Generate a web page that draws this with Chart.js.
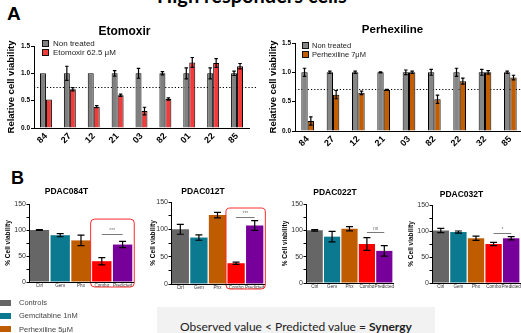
<!DOCTYPE html>
<html>
<head>
<meta charset="utf-8">
<script src="https://cdn.jsdelivr.net/npm/chart.js@4.4.1/dist/chart.umd.min.js"></script>
<style>
  body { margin: 0; background: #fff; }
  #page { position: relative; width: 521px; height: 333px; overflow: hidden; background: #fff;
          font-family: "Liberation Sans", Arial, sans-serif; }
  canvas { position: absolute; }
  .abs { position: absolute; white-space: nowrap; }
  .panel { font-weight: bold; color: #000; }
  .lg-row { display: flex; align-items: center; }
  .lg-box { display: inline-block; box-sizing: border-box; }
  #combo-legend { will-change: transform; }
</style>
</head>
<body>
<div id="page">
  <div class="abs" id="main-title" style="left:157px; top:-15px; font:bold 20px Lato, sans-serif; line-height:20px; color:#000;">High responders cells</div>
  <div class="abs panel" style="left:7px; top:4px; font-size:19px; line-height:20px;">A</div>
  <div class="abs panel" style="left:11px; top:168px; font-size:18px; line-height:20px;">B</div>

  <canvas id="eto"></canvas>
  <canvas id="perhex"></canvas>
  <div class="abs" id="eto-legend" style="left:42px; top:39px; font-size:8px; color:#222;"></div>
  <div class="abs" id="perhex-legend" style="left:302px; top:41px; font-size:7.5px; color:#222;"></div>

  <canvas id="p084"></canvas>
  <canvas id="p012"></canvas>
  <canvas id="p022"></canvas>
  <canvas id="p032"></canvas>

  <div class="abs" id="combo-legend" style="left:0; top:296px; font-size:7.5px; color:#444;"></div>

  <div class="abs" style="left:157px; top:307px; width:278px; height:30px; background:#f2f2f2;"></div>
  <div class="abs" style="left:157px; top:319px; width:278px; text-align:center; font:12px Lato, sans-serif; line-height:15px; color:#222;">
    Observed value &lt; Predicted value = <b>Synergy</b>
  </div>
</div>

<script>
// ---- Panel A data ----
const etoLabels = ["84", "27", "12", "21", "03", "82", "01", "22", "85"];
const etoControl = [1, 1, 1, 1, 1, 1, 1, 1, 1];
const etoControlErr = [0, 0.13, 0, 0.05, 0.09, 0.03, 0.1, 0.1, 0.04];
const etoTreated = [0.52, 0.71, 0.39, 0.6, 0.31, 0.53, 1.2, 1.19, 1.13];
const etoTreatedErr = [0, 0.03, 0.02, 0.02, 0.07, 0.02, 0.09, 0.08, 0.05];

const perhexLabels = ["84", "27", "12", "21", "03", "82", "22", "32", "85"];
const perhexControl = [1, 1, 1, 1, 1, 1, 1, 1, 1];
const perhexControlErr = [0.07, 0.02, 0.02, 0.01, 0.04, 0.05, 0.07, 0.05, 0.02];
const perhexTreated = [0.17, 0.62, 0.65, 0.7, 1.0, 0.54, 0.85, 1.0, 0.91];
const perhexTreatedErr = [0.07, 0.07, 0.03, 0.01, 0.02, 0.07, 0.05, 0.03, 0.04];

// ---- Panel B data ----
const comboLabels = ["Ctrl", "Gem", "Phx", "Combo", "Predicted"];
const comboLegend = ["Controls", "Gemcitabine 1nM", "Perhexiline 5\u03bcM"];
const pdac084 = [100, 90, 80, 40, 72];
const pdac084Err = [1, 3, 10, 7, 6];
const pdac012 = [100, 85, 126, 38, 107];
const pdac012Err = [9, 5, 5, 2, 9];
const pdac022 = [100, 88, 103, 74, 61];
const pdac022Err = [1.5, 10, 4, 12, 10];
const pdac032 = [101, 98, 86, 75, 86];
const pdac032Err = [4, 2, 4, 3, 3];

const comboColors = ["#666666", "#0b7a90", "#c05c00", "#ff0000", "#78009a"];

Chart.defaults.font.family = "'Liberation Sans', Arial, sans-serif";
Chart.defaults.color = "#222";
Chart.defaults.animation = false;

// error bars drawn from each dataset's "errors" list
const errorBars = {
  id: "errorBars",
  afterDatasetsDraw(chart, args, opts) {
    const ctx = chart.ctx;
    const y = chart.scales.y;
    chart.data.datasets.forEach((ds, i) => {
      if (!ds.errors) return;
      chart.getDatasetMeta(i).data.forEach((bar, j) => {
        const e = ds.errors[j];
        if (!e) return;
        const top = y.getPixelForValue(ds.data[j] + e);
        const bot = y.getPixelForValue(ds.data[j] - e);
        const c = opts.cap / 2;
        ctx.save();
        ctx.strokeStyle = "#000";
        ctx.lineWidth = opts.width || 1;
        ctx.beginPath();
        ctx.moveTo(bar.x, top); ctx.lineTo(bar.x, bot);
        ctx.moveTo(bar.x - c, top); ctx.lineTo(bar.x + c, top);
        ctx.moveTo(bar.x - c, bot); ctx.lineTo(bar.x + c, bot);
        ctx.stroke();
        ctx.restore();
      });
    });
  }
};

// dotted reference line
const refLine = {
  id: "refLine",
  beforeDatasetsDraw(chart, args, opts) {
    if (opts.value == null) return;
    const { ctx, chartArea, scales: { y } } = chart;
    const py = Math.round(y.getPixelForValue(opts.value)) + 0.5;
    ctx.save();
    ctx.strokeStyle = "#000";
    ctx.lineWidth = 1;
    ctx.setLineDash([1.2, 2]);
    ctx.beginPath();
    ctx.moveTo(chartArea.left, py);
    ctx.lineTo(chartArea.right + (opts.extend || 0), py);
    ctx.stroke();
    ctx.restore();
  }
};

// significance bar + optional red box around combo/predicted
const sigMark = {
  id: "sigMark",
  afterDatasetsDraw(chart, args, opts) {
    if (!opts.text) return;
    const { ctx, chartArea, scales: { y } } = chart;
    const bars = chart.getDatasetMeta(0).data;
    const a = bars[opts.from], b = bars[opts.to];
    const ly = Math.round(y.getPixelForValue(opts.lineValue)) + 0.5;
    ctx.save();
    if (opts.boxTop != null) {
      const top = y.getPixelForValue(opts.boxTop);
      const left = a.x - a.width / 2 - 1.5;
      const right = b.x + b.width / 2 + 2;
      ctx.strokeStyle = "#ff2a2a";
      ctx.lineWidth = 1;
      ctx.beginPath();
      ctx.roundRect(left, top, right - left, chartArea.bottom + 5 - top, 4);
      ctx.stroke();
    }
    ctx.strokeStyle = "#7a7a7a";
    ctx.lineWidth = 1;
    ctx.beginPath();
    ctx.moveTo(a.x, ly); ctx.lineTo(b.x, ly);
    ctx.stroke();
    ctx.fillStyle = "#777";
    ctx.font = "5px 'Liberation Sans', Arial";
    ctx.textAlign = "center";
    ctx.textBaseline = "bottom";
    ctx.fillText(opts.text, (a.x + b.x) / 2, ly - 1);
    ctx.restore();
  }
};

// place a canvas so the plot area lands on the given page box
function layoutFor(id, box) {
  const cv = document.getElementById(id);
  const canvasLeft = box.plotLeft - box.yAxisW;
  const width = Math.max(2 * (box.titleX - canvasLeft), box.plotRight - canvasLeft);
  const height = box.canvasBottom - box.canvasTop;
  cv.width = width;
  cv.height = height;
  cv.style.left = canvasLeft + "px";
  cv.style.top = box.canvasTop + "px";
  const lh = box.titleSize * 1.2;
  const padTop = box.titleY - box.canvasTop - lh / 2;
  return {
    ctx: cv.getContext("2d"),
    padding: { top: padTop, left: 0, bottom: 0, right: width - (box.plotRight - canvasLeft) },
    titlePad: { top: 0, bottom: box.plotTop - box.canvasTop - padTop - lh },
    xH: box.canvasBottom - box.plotBottom
  };
}

function viabilityChart(id, box, labels, sets, refValue, refExtend) {
  const L = layoutFor(id, box);
  return new Chart(L.ctx, {
    type: "bar",
    data: { labels: labels, datasets: sets },
    options: {
      responsive: false,
      layout: { padding: L.padding },
      datasets: { bar: { categoryPercentage: 0.5, barPercentage: 1.0, borderWidth: 1, borderColor: "#000" } },
      plugins: {
        legend: { display: false },
        tooltip: { enabled: false },
        title: { display: true, text: box.title, font: { size: box.titleSize, weight: "bold" }, color: "#000", padding: L.titlePad },
        errorBars: { cap: 3.5, width: 1.2 },
        refLine: { value: refValue, extend: refExtend }
      },
      scales: {
        x: {
          grid: { display: false, drawTicks: false },
          border: { color: "#000", width: 1 },
          ticks: { autoSkip: false, minRotation: 45, maxRotation: 45, padding: 3, color: "#000", font: { size: 9, weight: "bold" } },
          afterFit: (s) => { s.height = L.xH; }
        },
        y: {
          min: 0, max: 1.5,
          grid: { drawOnChartArea: false, tickLength: 3, color: "#000" },
          border: { color: "#000", width: 1 },
          ticks: { stepSize: 0.5, padding: 1, color: "#000", font: { size: 6.5, weight: "bold" }, callback: (v) => v.toFixed(1) },
          title: { display: true, text: "Relative cell viability", color: "#000", font: { size: 9.5, weight: "bold" }, padding: { top: box.yTitlePad, bottom: 0 } },
          afterFit: (s) => { s.width = box.yAxisW; }
        }
      }
    },
    plugins: [errorBars, refLine]
  });
}

function comboChart(id, box, values, errors, sig) {
  const L = layoutFor(id, box);
  return new Chart(L.ctx, {
    type: "bar",
    data: {
      labels: comboLabels,
      datasets: [{ data: values, errors: errors, backgroundColor: comboColors, categoryPercentage: 1.0, barPercentage: 0.93 }]
    },
    options: {
      responsive: false,
      layout: { padding: L.padding },
      plugins: {
        legend: { display: false },
        tooltip: { enabled: false },
        title: { display: true, text: box.title, font: { size: 8.5, weight: "bold" }, color: "#000", padding: L.titlePad },
        errorBars: { cap: 7, width: 1.2 },
        sigMark: sig
      },
      scales: {
        x: {
          grid: { display: false, drawTicks: false },
          border: { color: "#000", width: 1, z: 1 },
          ticks: { autoSkip: false, maxRotation: 0, padding: 1, color: "#333", font: { size: 4.6 } },
          afterFit: (s) => { s.height = L.xH; }
        },
        y: {
          min: 0, max: 150,
          grid: { drawOnChartArea: false, tickLength: 2.5, color: "#000" },
          border: { color: "#000", width: 1, z: 1 },
          ticks: { stepSize: 25, padding: 0.5, color: "#333", font: { size: 7 }, callback: (v) => (v % 50 === 0 ? v : "") },
          title: { display: true, text: "% Cell viability", color: "#000", font: { size: 6.5, weight: "bold" }, padding: { top: box.yTitlePad, bottom: 0 } },
          afterFit: (s) => { s.width = box.yAxisW; }
        }
      }
    },
    plugins: [errorBars, sigMark]
  });
}

function htmlLegend(el, names, colors, boxW, boxH, rowH, gap, border, textColor) {
  names.forEach((name, i) => {
    const row = document.createElement("div");
    row.className = "lg-row";
    row.style.height = rowH + "px";
    row.style.color = textColor;
    const sw = document.createElement("span");
    sw.className = "lg-box";
    sw.style.width = boxW + "px";
    sw.style.height = boxH + "px";
    sw.style.background = colors[i];
    if (border) sw.style.border = "1px solid #111";
    sw.style.marginRight = gap + "px";
    row.appendChild(sw);
    const txt = document.createElement("span");
    txt.textContent = name;
    txt.style.color = textColor;
    row.appendChild(txt);
    el.appendChild(row);
  });
}

const eto = viabilityChart("eto",
  { plotLeft: 34, plotRight: 249, plotTop: 46, plotBottom: 128, yAxisW: 34, titleX: 141.5, titleY: 31.5,
    canvasTop: 22, canvasBottom: 152, title: "Etomoxir", titleSize: 12, yTitlePad: 5.3 },
  etoLabels,
  [
    { label: "Non treated", data: etoControl, errors: etoControlErr, backgroundColor: "#808080" },
    { label: "Etomoxir 62.5 \u03bcM", data: etoTreated, errors: etoTreatedErr, backgroundColor: "#f23c3c" }
  ], 0.75, 9);

const perhex = viabilityChart("perhex",
  { plotLeft: 295, plotRight: 523, plotTop: 43, plotBottom: 131, yAxisW: 33, titleX: 408, titleY: 30,
    canvasTop: 20, canvasBottom: 152, title: "Perhexiline", titleSize: 11.5, yTitlePad: 5.8 },
  perhexLabels,
  [
    { label: "Non treated", data: perhexControl, errors: perhexControlErr, backgroundColor: "#868686" },
    { label: "Perhexiline 7\u03bcM", data: perhexTreated, errors: perhexTreatedErr, backgroundColor: "#c25e00" }
  ], 0.72, 10);

htmlLegend(document.getElementById("eto-legend"), eto.data.datasets.map(d => d.label),
  eto.data.datasets.map(d => d.backgroundColor), 7, 7, 9, 4, true, "#222");
htmlLegend(document.getElementById("perhex-legend"), perhex.data.datasets.map(d => d.label),
  perhex.data.datasets.map(d => d.backgroundColor), 7, 7, 9, 3, true, "#222");

comboChart("p084",
  { plotLeft: 29, plotRight: 133, plotTop: 204, plotBottom: 282, yAxisW: 29, titleX: 80, titleY: 192,
    canvasTop: 180, canvasBottom: 295, title: "PDAC084T", titleSize: 8.5, yTitlePad: 4.6 },
  pdac084, pdac084Err, { from: 3, to: 4, lineValue: 92, boxTop: 121, text: "***" });

comboChart("p012",
  { plotLeft: 171, plotRight: 264, plotTop: 202, plotBottom: 284, yAxisW: 29, titleX: 209, titleY: 192,
    canvasTop: 180, canvasBottom: 297, title: "PDAC012T", titleSize: 8.5, yTitlePad: 7.1 },
  pdac012, pdac012Err, { from: 3, to: 4, lineValue: 122, boxTop: 139, text: "***" });

comboChart("p022",
  { plotLeft: 306, plotRight: 393, plotTop: 204, plotBottom: 283, yAxisW: 29, titleX: 349, titleY: 193,
    canvasTop: 180, canvasBottom: 296, title: "PDAC022T", titleSize: 8.5, yTitlePad: 4.1 },
  pdac022, pdac022Err, { from: 3, to: 4, lineValue: 97, text: "ns" });

comboChart("p032",
  { plotLeft: 432, plotRight: 520, plotTop: 205, plotBottom: 283, yAxisW: 29, titleX: 474, titleY: 195,
    canvasTop: 180, canvasBottom: 296, title: "PDAC032T", titleSize: 8.5, yTitlePad: 4.1 },
  pdac032, pdac032Err, { from: 3, to: 4, lineValue: 96, text: "*" });

htmlLegend(document.getElementById("combo-legend"), comboLegend, comboColors, 11, 6, 13.3, 8, false, "#444");
</script>
</body>
</html>
